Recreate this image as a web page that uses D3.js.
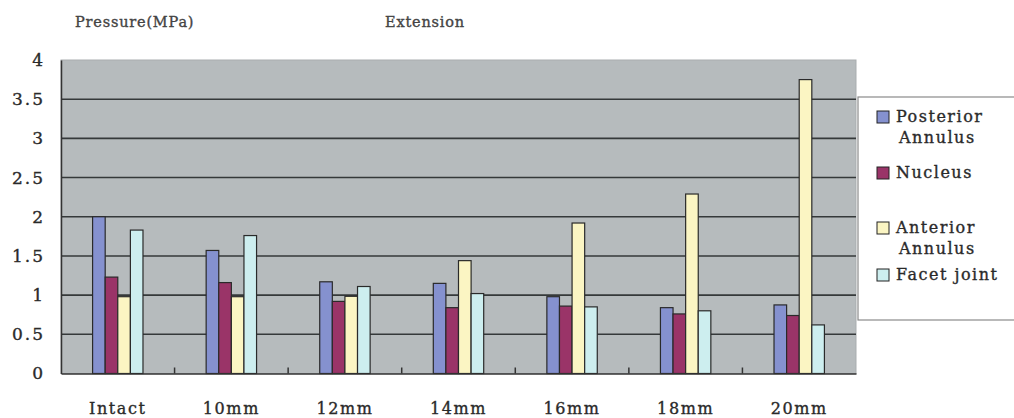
<!DOCTYPE html>
<html><head><meta charset="utf-8">
<script src="https://cdn.jsdelivr.net/npm/d3@7"></script>
<style>
body{margin:0;background:#fff;}
text{font-family:"DejaVu Serif",serif;fill:#2a2a2a;stroke:#2a2a2a;stroke-width:0.35px;}
</style></head>
<body><svg id="c" width="1014" height="418"></svg>
<script>
const categories = ["Intact","10mm","12mm","14mm","16mm","18mm","20mm"];
const seriesNames = ["Posterior Annulus","Nucleus","Anterior Annulus","Facet joint"];
const posterior = [2.00,1.57,1.17,1.15,0.98,0.84,0.875];
const nucleus   = [1.23,1.16,0.92,0.84,0.86,0.76,0.74];
const anterior  = [0.98,0.98,0.985,1.44,1.92,2.29,3.75];
const facet     = [1.83,1.76,1.11,1.02,0.85,0.80,0.62];
const yTicks = [0,0.5,1,1.5,2,2.5,3,3.5,4];
const yTickLabels = ["0","0.5","1","1.5","2","2.5","3","3.5","4"];
const colors = ["#8591cf","#9a3468","#fbf5c3","#cdeeef"];
const series = [posterior,nucleus,anterior,facet];

const svg = d3.select("#c");
const L=61, R=856, T=60, B=373.5;
const x = d3.scaleBand().domain(categories).range([L,R]);
const y = d3.scaleLinear().domain([0,4]).range([B,T]);
const bw = 12.6;
const x1 = d3.scaleBand().domain(d3.range(4)).range([0,bw*4]);

svg.append("rect").attr("x",L).attr("y",T).attr("width",R-L).attr("height",B-T)
  .attr("fill","#b6bbbd").attr("stroke","#a9adaf").attr("stroke-width",1);
svg.append("g").selectAll("line").data(yTicks.filter(d=>d>0&&d<4)).join("line")
  .attr("x1",L).attr("x2",R).attr("y1",d=>y(d)).attr("y2",d=>y(d))
  .attr("stroke","#35393a").attr("stroke-width",1.6);

const g = svg.append("g");
categories.forEach((c,i)=>{
  series.forEach((s,j)=>{
    const x0 = x(c)+x.bandwidth()/2 - bw*2 + x1(j);
    g.append("rect").attr("x",x0).attr("y",y(s[i])).attr("width",bw)
      .attr("height",y(0)-y(s[i])).attr("fill",colors[j])
      .attr("stroke","#2a2a2a").attr("stroke-width",1.2);
  });
});

const yAxis = d3.axisLeft(y).tickValues(yTicks).tickFormat((d,i)=>yTickLabels[i]).tickSize(0).tickPadding(16);
const ya = svg.append("g").attr("transform",`translate(${L},0)`).call(yAxis);
ya.select(".domain").attr("stroke","#333").attr("stroke-width",1.5);
ya.selectAll("text").attr("font-size",17).style("font-family","DejaVu Serif").style("fill","#2a2a2a").attr("letter-spacing",2);

const xAxis = d3.axisBottom(x).tickSize(0).tickPadding(29);
const xa = svg.append("g").attr("transform",`translate(0,${B})`).call(xAxis);
xa.select(".domain").attr("stroke","#333").attr("stroke-width",1.5);
xa.selectAll("text").attr("font-size",16).style("font-family","DejaVu Serif").style("fill","#2a2a2a").attr("letter-spacing",1.6);
svg.append("g").selectAll("line").data(categories.slice(1)).join("line")
  .attr("x1",d=>x(d)).attr("x2",d=>x(d)).attr("y1",B).attr("y2",B-6)
  .attr("stroke","#333").attr("stroke-width",1.5);

svg.append("text").attr("x",75).attr("y",27).attr("font-size",14.5).attr("letter-spacing",0.8).style("fill","#444").style("stroke","#444").text("Pressure(MPa)");
svg.append("text").attr("x",425).attr("y",27).attr("text-anchor","middle").attr("font-size",14.5).attr("letter-spacing",0.8).style("fill","#444").style("stroke","#444").text("Extension");

const lg = svg.append("g");
lg.append("rect").attr("x",858).attr("y",97).attr("width",170).attr("height",223)
  .attr("fill","#fff").attr("stroke","#8a8a8a").attr("stroke-width",1.2);
const legendLines = [["Posterior","Annulus"],["Nucleus"],["Anterior","Annulus"],["Facet joint"]];
const legendY = [117,173,228,275];
legendLines.forEach((lines,i)=>{
  lg.append("rect").attr("x",877).attr("y",legendY[i]-6).attr("width",12).attr("height",12)
    .attr("fill",colors[i]).attr("stroke","#222").attr("stroke-width",1);
  lines.forEach((t,k)=>{
    lg.append("text").attr("x",k?899:896).attr("y",legendY[i]+k*21+5).attr("font-size",16).attr("letter-spacing",1.5).text(t);
  });
});
</script></body></html>
